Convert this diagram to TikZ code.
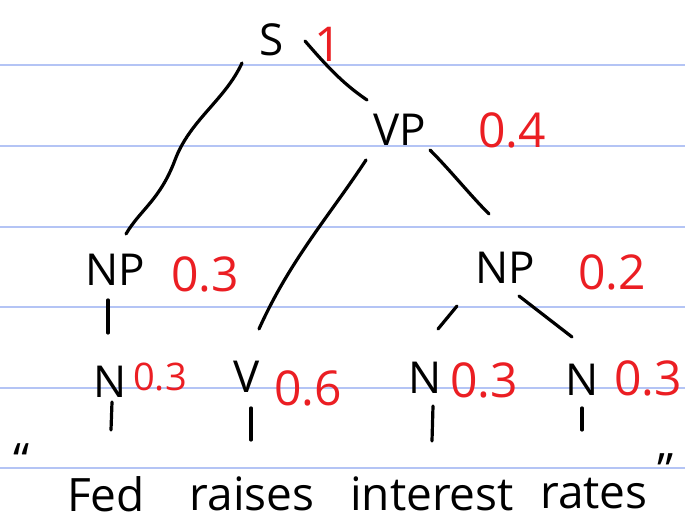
\documentclass[tikz,border=0pt]{standalone}
\usepackage{fontspec}
\setmainfont{Open Sans}
\definecolor{ruled}{RGB}{180,196,245}
\definecolor{prob}{RGB}{235,30,35}
\begin{document}
\begin{tikzpicture}[x=0.5pt,y=-0.5pt,
  cat/.style={font=\fontsize{22}{24}\selectfont, inner sep=1pt},
  pr/.style={font=\fontsize{24}{26}\selectfont, text=prob, inner sep=1pt},
  word/.style={font=\fontsize{23}{25}\selectfont, inner sep=1pt},
  edge/.style={line width=1.6pt, line cap=round},
  rule/.style={ruled, line width=1pt}]
\useasboundingbox[fill=white] (0,0) rectangle (685,522);
\foreach \y in {65,146,227,307,388,468} \draw[rule] (0,\y) -- (685,\y);
% nodes
\node[cat] (S) at (272,40) {S};
\node[pr] (pS) at (328,44) {1};
\node[cat] (VP) at (400,130) {VP};
\node[pr] (pVP) at (512,130) {0.4};
\node[cat] (NPl) at (115,270) {NP};
\node[pr] (pNPl) at (205,274) {0.3};
\node[cat] (NPr) at (505,268) {NP};
\node[pr] (pNPr) at (612,272) {0.2};
\node[cat] (N1) at (110,382) {N};
\node[pr,font=\fontsize{19}{21}\selectfont] (pN1) at (160,377) {0.3};
\node[cat] (V) at (247,377) {V};
\node[pr] (pV) at (308,388) {0.6};
\node[cat] (N2) at (425,378) {N};
\node[pr] (pN2) at (484,380) {0.3};
\node[cat] (N3) at (582,380) {N};
\node[pr] (pN3) at (648,378) {0.3};
\node[word] (w1) at (106,494) {Fed};
\node[word] (w2) at (252,494) {raises};
\node[word] (w3) at (432,494) {interest};
\node[word] (w4) at (594,494) {rates};
\node[word] (ql) at (22,460) {\textquotedblleft};
\node[word] (qr) at (666,470) {\textquotedblright};
% edges
\coordinate (a1) at (242,63); \coordinate (a2) at (126,234);
\coordinate (b1) at (305,41); \coordinate (b2) at (367,100);
\coordinate (c1) at (366,160); \coordinate (c2) at (259,329);
\coordinate (d1) at (430,150); \coordinate (d2) at (489,214);
\coordinate (e1) at (108,300); \coordinate (e2) at (108,333);
\coordinate (f1) at (457,306); \coordinate (f2) at (438,329);
\coordinate (g1) at (519,296); \coordinate (g2) at (572,337);
\draw[edge] (a1) .. controls (225,100) and (190,120) .. (175,160) .. controls (160,200) and (140,210) .. (a2);
\draw[edge] (b1) .. controls (330,70) and (345,85) .. (b2);
\draw[edge] (c1) .. controls (330,215) and (290,260) .. (c2);
\draw[edge] (d1) .. controls (450,170) and (470,195) .. (d2);
\draw[edge] (e1) -- (e2);
\draw[edge] (f1) -- (f2);
\draw[edge] (g1) -- (g2);
\draw[edge] (112,402) -- (111,430);
\draw[edge] (251,408) -- (251,440);
\draw[edge] (433,406) -- (432,441);
\draw[edge] (582,408) -- (582,430);
\end{tikzpicture}
\end{document}
